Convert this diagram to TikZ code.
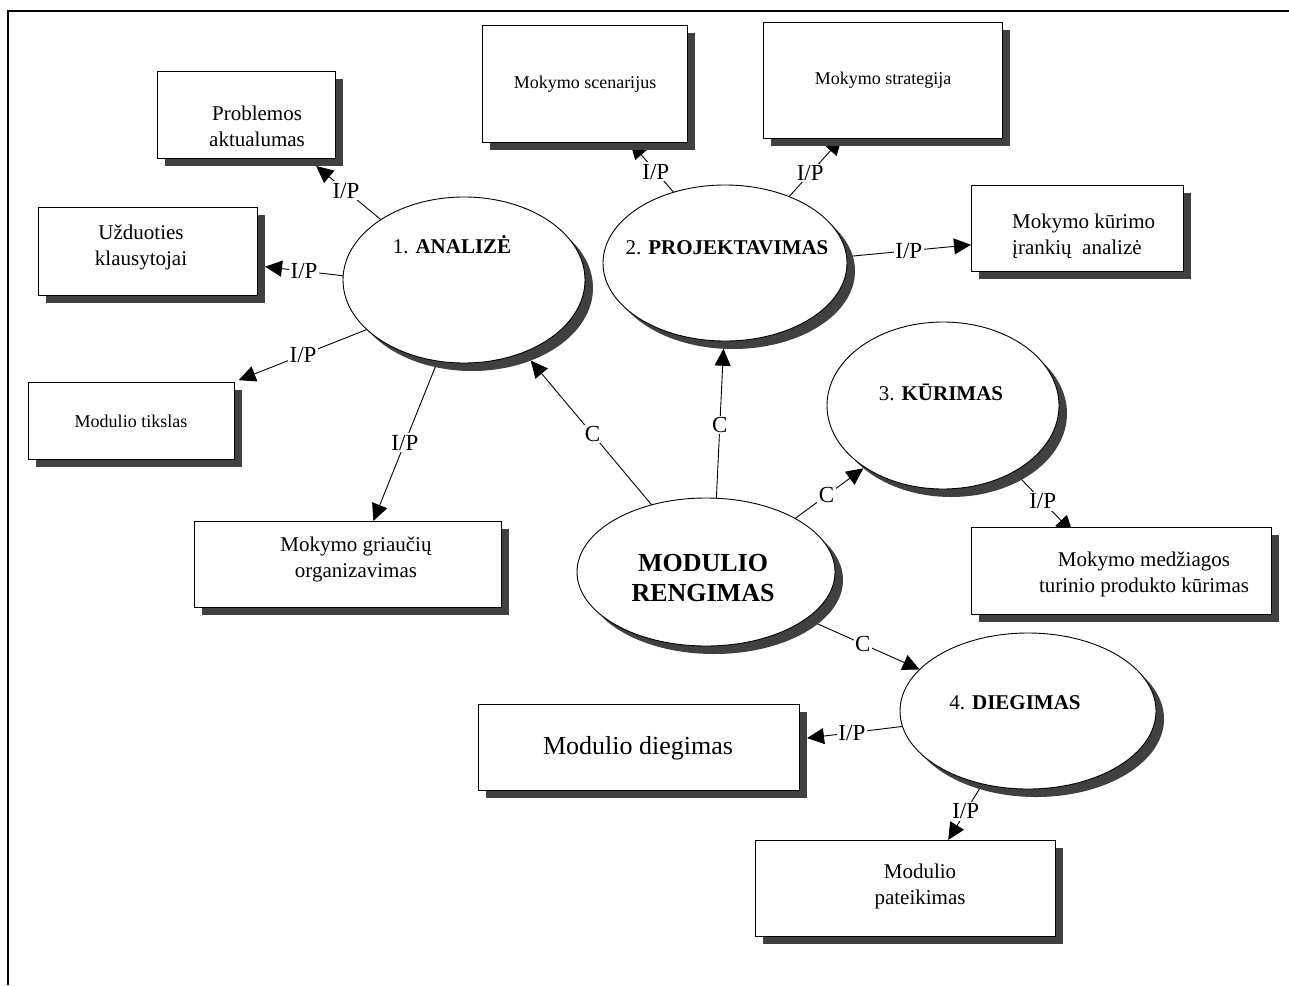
\documentclass[tikz,border=0pt]{standalone}
\usepackage{fontspec}
\setmainfont{Liberation Serif}
\usetikzlibrary{arrows.meta,shapes.geometric}
\pgfdeclarelayer{links}
\pgfsetlayers{links,main}
\definecolor{shadowgray}{HTML}{404040}

\begin{document}
\begin{tikzpicture}[x=1pt,y=-1pt,
  wh/.style 2 args={minimum width=#1pt, minimum height=#2pt},
  card/.style={draw=black, line width=1pt, fill=white, rectangle, inner sep=0pt, outer sep=0pt},
  cardshadow/.style={fill=shadowgray, rectangle, inner sep=0pt, outer sep=0pt},
  stage/.style={draw=black, line width=0.9pt, fill=white, ellipse, inner sep=0pt, outer sep=0pt},
  stageshadow/.style={fill=shadowgray, ellipse, inner sep=0pt, outer sep=0pt},
  txt/.style={inner sep=0pt, align=center, font=\fontsize{21}{26}\selectfont},
  smalltxt/.style={inner sep=0pt, align=center, font=\fontsize{18}{22}\selectfont},
  bigtxt/.style={inner sep=0pt, align=center, font=\fontsize{26}{30}\selectfont},
  link/.style={line width=0.9pt, -{Triangle[length=17pt,width=16pt]}},
  tag/.style={fill=white, inner sep=1.5pt, font=\fontsize{23}{23}\selectfont},
]
\useasboundingbox (0,0) rectangle (1289,985);

% outer frame (top and left sides only)
\draw[line width=2pt] (8,985) -- (8,11) -- (1289,11);

% ---- process ellipses with their shadows ----
\node[stageshadow, wh={242}{166}] (anSh)   at (472,288) {};
\node[stage,       wh={242}{166}] (an)     at (464,280) {};
\node[stageshadow, wh={244}{156}] (projSh) at (733,271) {};
\node[stage,       wh={244}{156}] (proj)   at (725,263) {};
\node[stageshadow, wh={232}{167}] (kurSh)  at (951,413.5) {};
\node[stage,       wh={232}{167}] (kur)    at (943,405.5) {};
\node[stageshadow, wh={256}{156}] (instSh) at (1036,719) {};
\node[stage,       wh={256}{156}] (inst)   at (1028,711) {};
\node[stageshadow, wh={258}{148}] (modSh)  at (714,580) {};
\node[stage,       wh={258}{148}] (mod)    at (706,572) {};

\node[txt] (anT)   at (452,245) {1. \textbf{ANALIZĖ}};
\node[txt] (projT) at (727,248) {2. \textbf{PROJEKTAVIMAS}};
\node[txt] (kurT)  at (941,392) {3. \textbf{KŪRIMAS}};
\node[txt] (instT) at (1015,703) {4. \textbf{DIEGIMAS}};
\node[bigtxt, font=\fontsize{26}{30}\selectfont\bfseries] (modT) at (703,578) {MODULIO\\RENGIMAS};

% ---- result boxes with their shadows ----
\node[cardshadow, wh={178}{87}]  (probSh)  at (254,122.5) {};
\node[card,       wh={178}{87}]  (prob)    at (246,114.5) {};
\node[cardshadow, wh={219}{88}]  (uzdSh)   at (155.5,259) {};
\node[card,       wh={219}{88}]  (uzd)     at (147.5,251) {};
\node[cardshadow, wh={206}{77}]  (tiksSh)  at (139,428.5) {};
\node[card,       wh={206}{77}]  (tiks)    at (131,420.5) {};
\node[cardshadow, wh={307}{86}]  (griauSh) at (355.5,572) {};
\node[card,       wh={307}{86}]  (griau)   at (347.5,564) {};
\node[cardshadow, wh={205}{117}] (scenSh)  at (592.5,91.5) {};
\node[card,       wh={205}{117}] (scen)    at (584.5,83.5) {};
\node[cardshadow, wh={239}{116}] (stratSh) at (890.5,88) {};
\node[card,       wh={239}{116}] (strat)   at (882.5,80) {};
\node[cardshadow, wh={212}{86}]  (irankSh) at (1085,236) {};
\node[card,       wh={212}{86}]  (irank)   at (1077,228) {};
\node[cardshadow, wh={300}{87}]  (medzSh)  at (1129,578.5) {};
\node[card,       wh={300}{87}]  (medz)    at (1121,570.5) {};
\node[cardshadow, wh={321}{86}]  (diegbSh) at (646.5,755) {};
\node[card,       wh={321}{86}]  (diegb)   at (638.5,747) {};
\node[cardshadow, wh={300}{96}]  (patSh)   at (913,896) {};
\node[card,       wh={300}{96}]  (pat)     at (905,888) {};

\node[txt]      (probT)  at (257,126) {Problemos\\aktualumas};
\node[txt]      (uzdT)   at (141,247) {Užduoties\\klausytojai};
\node[smalltxt] (tiksT)  at (131,421) {Modulio tikslas};
\node[txt]      (griauT) at (356,559) {Mokymo griaučių\\organizavimas};
\node[smalltxt] (scenT)  at (585,84)  {Mokymo scenarijus};
\node[smalltxt] (stratT) at (883,80)  {Mokymo strategija};
\node[txt, align=left, anchor=west] (irankT) at (1012,236) {Mokymo kūrimo\\įrankių\ \ analizė};
\node[txt]      (medzT)  at (1144,574) {Mokymo medžiagos\\turinio produkto kūrimas};
\node[bigtxt]   (diegbT) at (638,748) {Modulio diegimas};
\node[txt]      (patT)   at (920,886) {Modulio\\pateikimas};

% ---- connectors, kept underneath the shapes ----
\begin{pgfonlayer}{links}
\draw[link] (an.144) -- node[tag,pos=0.54]{I/P} (probSh.-35.1);
\draw[link] (an.178) -- node[tag,pos=0.5]{I/P} (uzdSh.-4.7);
\draw[link, shorten >=5pt] (an.207) -- node[tag,pos=0.48]{I/P} (tiks.north east);
\draw[link] (an.252) -- node[tag,pos=0.51]{I/P} (griau.59.3);
\draw[link] (proj.126.6) -- node[tag,pos=0.41]{I/P} (scen.-52.1);
\draw[link] (proj.46.3) -- node[tag,pos=0.40]{I/P} (strat.235.7);
\draw[link] (proj.3) -- node[tag,pos=0.5]{I/P} (irank.189.1);
\draw[link, shorten >=-8pt] (kur.317.4) -- node[tag,pos=0.54]{I/P} (medz.141.1);
\draw[link] (inst.187) -- node[tag,pos=0.53]{I/P} (diegbSh.6.8);
\draw[link] (inst.238.4) -- node[tag,pos=0.49]{I/P} (pat.48.7);
\draw[link] (mod.129.2) -- node[tag,pos=0.49]{C} (anSh.-51.9);
\draw[link] (mod.82.3) -- node[tag,pos=0.49]{C} (projSh.263.5);
\draw[link] (mod.31.7) -- node[tag,pos=0.46]{C} (kurSh.212.7);
\draw[link] (mod.335.8) -- node[tag,pos=0.5]{C} (inst.159.4);
\end{pgfonlayer}
\end{tikzpicture}
\end{document}
